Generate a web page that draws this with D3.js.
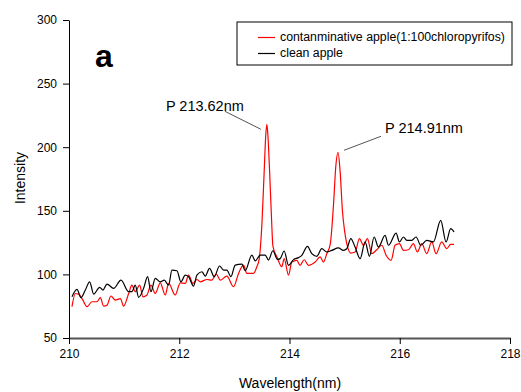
<!DOCTYPE html>
<html>
<head>
<meta charset="utf-8">
<script src="https://cdn.jsdelivr.net/npm/d3@7"></script>
<style>
  body { margin: 0; background: #fff; }
  text { font-family: "Liberation Sans", Arial, sans-serif; }
</style>
</head>
<body>
<div id="chart"></div>
<script>
// chart size
var svgWidth = 521;
var svgHeight = 392;

var margin = { top: 20, right: 11, bottom: 54, left: 69 };
var width = svgWidth - margin.left - margin.right;
var height = svgHeight - margin.top - margin.bottom;

// x ticks / y ticks
var xTicks = [210, 212, 214, 216, 218];
var yTicks = [50, 100, 150, 200, 250, 300];

// contaminated apple (red) - wavelength / intensity
var redWl = [210.054, 210.115, 210.175, 210.236, 210.326, 210.417, 210.508, 210.568, 210.628, 210.689,
  210.761, 210.840, 210.931, 210.991, 211.082, 211.142, 211.202, 211.281, 211.341, 211.414,
  211.486, 211.565, 211.656, 211.746, 211.807, 211.927, 212.018, 212.109, 212.169, 212.248,
  212.320, 212.381, 212.502, 212.592, 212.671, 212.743, 212.864, 212.985, 213.076, 213.166,
  213.227, 213.347, 213.408, 213.45, 213.50, 213.54, 213.57, 213.59, 213.61, 213.64,
  213.67, 213.70, 213.770, 213.861, 213.903, 213.982, 214.042, 214.133, 214.193, 214.266,
  214.344, 214.465, 214.556, 214.616, 214.677, 214.74, 214.80, 214.84, 214.88, 214.92,
  214.96, 215.00, 215.04, 215.112, 215.190, 215.269, 215.341, 215.414, 215.492, 215.583,
  215.674, 215.752, 215.843, 215.915, 215.994, 216.067, 216.157, 216.248, 216.320, 216.399,
  216.489, 216.580, 216.659, 216.761, 216.852, 216.924, 216.985];
var redInt = [74.6, 85.0, 84.5, 81.0, 74.6, 78.5, 78.5, 81.7, 75.1, 75.8,
  83.0, 79.8, 81.0, 75.1, 85.0, 91.6, 86.4, 91.6, 82.4, 83.8,
  91.6, 85.0, 93.4, 83.8, 92.9, 83.8, 93.4, 92.9, 99.5, 92.9,
  96.0, 94.2, 96.0, 95.5, 100.3, 95.5, 98.7, 90.3, 100.8, 107.3,
  100.8, 100.8, 106.0, 112, 140, 180, 210, 218, 208, 180,
  148, 122, 113.9, 106.0, 112.4, 99.5, 109.7, 111.0, 107.1, 111.5,
  107.1, 109.7, 113.7, 109.7, 116.3, 124, 156, 185, 196, 180,
  150, 134, 124, 116.8, 117.6, 128.1, 122.9, 128.1, 116.3, 119.4,
  122.9, 115.0, 111.0, 122.9, 124.2, 118.9, 119.4, 124.2, 117.6, 124.2,
  116.3, 125.5, 116.3, 125.5, 120.2, 123.6, 123.6];

// clean apple (black)
var blackWl = [210.054, 210.145, 210.218, 210.296, 210.375, 210.447, 210.556, 210.616, 210.689, 210.810,
  210.943, 211.082, 211.142, 211.202, 211.263, 211.353, 211.426, 211.486, 211.565, 211.656,
  211.728, 211.807, 211.867, 211.958, 212.030, 212.109, 212.169, 212.260, 212.320, 212.411,
  212.471, 212.550, 212.634, 212.731, 212.804, 212.864, 212.937, 213.015, 213.136, 213.196,
  213.317, 213.378, 213.468, 213.559, 213.619, 213.698, 213.782, 213.831, 213.903, 213.982,
  214.073, 214.163, 214.224, 214.326, 214.405, 214.495, 214.586, 214.677, 214.767, 214.888,
  214.979, 215.039, 215.112, 215.190, 215.281, 215.372, 215.450, 215.535, 215.613, 215.734,
  215.795, 215.934, 215.994, 216.067, 216.127, 216.218, 216.296, 216.381, 216.489, 216.610,
  216.743, 216.840, 216.924, 216.985];
var blackInt = [82.4, 88.2, 81.7, 87.7, 94.2, 84.5, 89.8, 87.7, 92.4, 89.0,
  95.5, 86.4, 86.4, 91.6, 82.0, 89.0, 98.2, 86.4, 96.9, 94.2,
  95.5, 91.6, 103.4, 102.9, 94.2, 99.5, 98.2, 90.8, 99.5, 102.1,
  98.7, 104.7, 98.2, 106.6, 103.4, 103.4, 98.2, 107.3, 108.1, 102.9,
  115.2, 110.7, 115.2, 115.2, 111.3, 118.6, 111.8, 112.4, 118.4, 107.1,
  111.6, 113.2, 115.0, 122.1, 116.3, 114.2, 120.2, 117.6, 118.9, 120.8,
  118.9, 120.2, 128.1, 121.5, 112.4, 125.5, 114.2, 129.4, 121.5, 130.7,
  122.9, 132.5, 125.5, 129.4, 126.8, 126.8, 129.4, 122.9, 126.8, 125.5,
  142.5, 125.5, 136.0, 133.3];

var seriesNames = ["contanminative apple(1:100chloropyrifos)", "clean apple"];
var seriesColors = ["#ff0000", "#000000"];

// peak labels
var peakWl = [213.59, 214.88];
var peakInt = [218, 196];
var peakText = ["P 213.62nm", "P 214.91nm"];

var svg = d3.select("#chart")
  .append("svg")
  .attr("width", svgWidth)
  .attr("height", svgHeight);

var chartGroup = svg.append("g")
  .attr("transform", `translate(${margin.left}, ${margin.top})`);

var xScale = d3.scaleLinear().domain([210, 218]).range([0, width]);
var yScale = d3.scaleLinear().domain([50, 300]).range([height, 0]);

// axes
var xAxis = chartGroup.append("g")
  .attr("transform", `translate(0, ${height})`)
  .call(d3.axisBottom(xScale).tickValues(xTicks).tickSize(6).tickSizeOuter(0).tickPadding(5));
xAxis.select(".domain").attr("stroke", "#555").attr("stroke-width", 2);

var yAxis = chartGroup.append("g")
  .call(d3.axisLeft(yScale).tickValues(yTicks).tickSize(6).tickSizeOuter(0).tickPadding(6));

chartGroup.selectAll(".tick text")
  .style("font-size", "12px")
  .attr("fill", "#000");

// lines
var line = d3.line()
  .x(d => xScale(d[0]))
  .y(d => yScale(d[1]))
  .curve(d3.curveMonotoneX);

var redData = redWl.map((w, i) => [w, redInt[i]]);
var blackData = blackWl.map((w, i) => [w, blackInt[i]]);

chartGroup.append("path")
  .datum(redData)
  .attr("fill", "none")
  .attr("stroke", seriesColors[0])
  .attr("stroke-width", 1.2)
  .attr("d", line);

chartGroup.append("path")
  .datum(blackData)
  .attr("fill", "none")
  .attr("stroke", seriesColors[1])
  .attr("stroke-width", 1.2)
  .attr("d", line);

// peak annotations
var leaderStart = [[-42, -13], [43, -16]];
var leaderEnd = [[-6, 5], [6, -2]];
peakText.forEach(function(t, i) {
  var px = xScale(peakWl[i]), py = yScale(peakInt[i]);
  chartGroup.append("line")
    .attr("x1", px + leaderStart[i][0]).attr("y1", py + leaderStart[i][1])
    .attr("x2", px + leaderEnd[i][0]).attr("y2", py + leaderEnd[i][1])
    .attr("stroke", "#555").attr("stroke-width", 1);
  chartGroup.append("text")
    .attr("x", i == 0 ? px - 101 : px + 47)
    .attr("y", i == 0 ? py - 13 : py - 19)
    .style("font-size", "14.5px")
    .text(t);
});

// panel letter
svg.append("text")
  .attr("x", 95)
  .attr("y", 67)
  .style("font-size", "32px")
  .style("font-weight", "bold")
  .text("a");

// axis titles
svg.append("text")
  .attr("x", 290)
  .attr("y", 388)
  .attr("text-anchor", "middle")
  .style("font-size", "14px")
  .text("Wavelength(nm)");

svg.append("text")
  .attr("transform", "translate(25, 178) rotate(-90)")
  .attr("text-anchor", "middle")
  .style("font-size", "14px")
  .text("Intensity");

// legend
var legend = svg.append("g").attr("transform", "translate(237, 22)");
legend.append("rect")
  .attr("width", 275).attr("height", 43)
  .attr("fill", "#fff").attr("stroke", "#000").attr("stroke-width", 1);
seriesNames.forEach(function(n, i) {
  legend.append("line")
    .attr("x1", 21).attr("x2", 38)
    .attr("y1", 15.5 + i * 16).attr("y2", 15.5 + i * 16)
    .attr("stroke", seriesColors[i]).attr("stroke-width", 1.2);
  legend.append("text")
    .attr("x", 43).attr("y", 19 + i * 16)
    .style("font-size", "12.3px")
    .text(n);
});
</script>
</body>
</html>
